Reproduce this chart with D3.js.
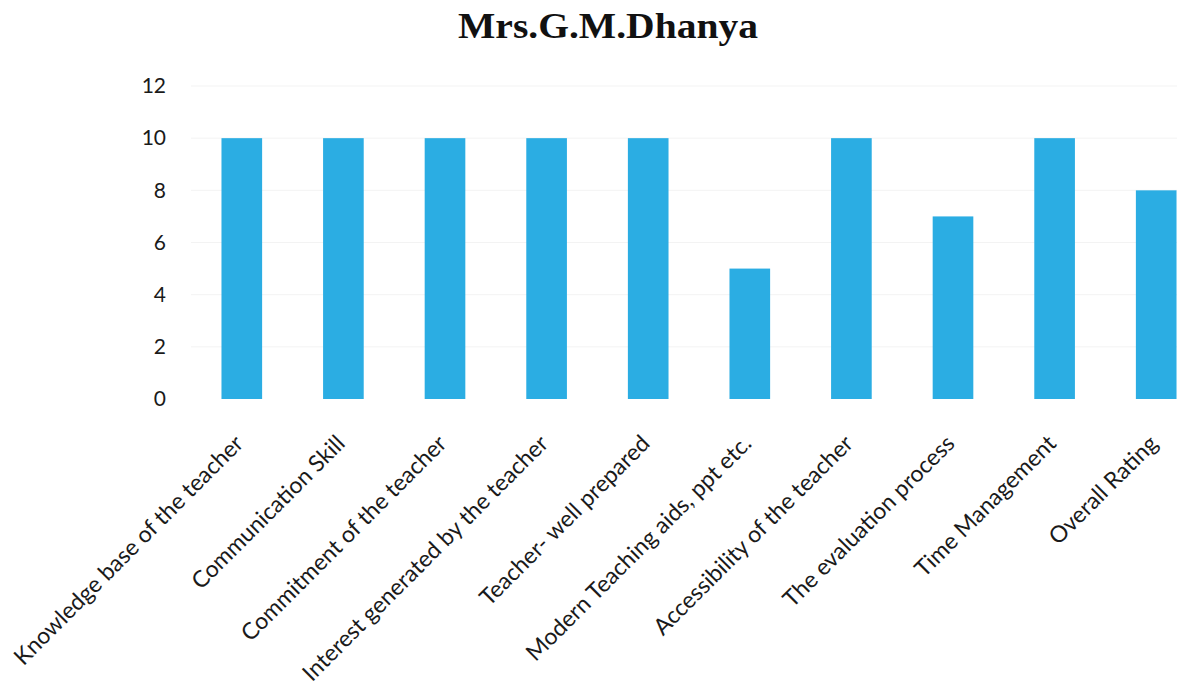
<!DOCTYPE html>
<html>
<head>
<meta charset="utf-8">
<script src="https://cdn.jsdelivr.net/npm/d3@7"></script>
<style>
  html, body { margin: 0; padding: 0; background: #ffffff; }
  svg { display: block; }
</style>
</head>
<body>
<svg id="chart" width="1177" height="690"></svg>
<script>
// Feedback scores per criterion
const categories = [
  "Knowledge base of the teacher",
  "Communication Skill",
  "Commitment of the teacher",
  "Interest generated by the teacher",
  "Teacher- well prepared",
  "Modern Teaching aids, ppt etc.",
  "Accessibility of the teacher",
  "The evaluation process",
  "Time Management",
  "Overall Rating"
];
const scores = [10, 10, 10, 10, 10, 5, 10, 7, 10, 8];
const yTicks = [0, 2, 4, 6, 8, 10, 12];
const chartTitle = "Mrs.G.M.Dhanya";

const svg = d3.select("#chart");
const W = 1177, H = 690;

const plot = { left: 191, right: 1207, top: 86, bottom: 399 };

const x = d3.scaleBand()
  .domain(categories)
  .range([plot.left, plot.right])
  .paddingInner(0.6)
  .paddingOuter(0.3);

const y = d3.scaleLinear()
  .domain([0, 12])
  .range([plot.bottom, plot.top]);

// faint horizontal gridlines
svg.append("g")
  .selectAll("line")
  .data(yTicks.filter(t => t > 0))
  .join("line")
  .attr("x1", plot.left)
  .attr("x2", W)
  .attr("y1", d => y(d))
  .attr("y2", d => y(d))
  .attr("stroke", "#f3f3f3")
  .attr("stroke-width", 1);

// y axis labels
const yAxis = d3.axisLeft(y).tickValues(yTicks).tickSize(0).tickPadding(0);
const gy = svg.append("g")
  .attr("transform", `translate(166,0)`)
  .call(yAxis);
gy.select(".domain").remove();
gy.selectAll("text")
  .attr("font-family", "Lato, 'Open Sans', sans-serif")
  .attr("font-size", 21)
  .attr("fill", "#1a1a1a");

// bars
svg.append("g")
  .selectAll("rect")
  .data(categories.map((c, i) => ({ c, v: scores[i] })))
  .join("rect")
  .attr("x", d => x(d.c))
  .attr("width", x.bandwidth())
  .attr("y", d => y(d.v))
  .attr("height", d => y(0) - y(d.v))
  .attr("fill", "#2badE3");

// rotated category labels
const xAxis = d3.axisBottom(x).tickSize(0).tickPadding(0);
const gx = svg.append("g")
  .attr("transform", `translate(0,${plot.bottom})`)
  .call(xAxis);
gx.select(".domain").remove();
gx.selectAll("text")
  .attr("font-family", "Lato, 'Open Sans', sans-serif")
  .attr("font-size", 23)
  .attr("fill", "#1a1a1a")
  .attr("text-anchor", "end")
  .attr("dy", null)
  .attr("y", 0)
  .attr("transform", "translate(3,46) rotate(-45)");

// title
svg.append("text")
  .attr("x", 608)
  .attr("y", 38)
  .attr("text-anchor", "middle")
  .attr("font-family", "'Liberation Serif', 'Times New Roman', serif")
  .attr("font-weight", "bold")
  .attr("font-size", 36)
  .attr("textLength", 300)
  .attr("lengthAdjust", "spacingAndGlyphs")
  .attr("fill", "#111")
  .text(chartTitle);
</script>
</body>
</html>
